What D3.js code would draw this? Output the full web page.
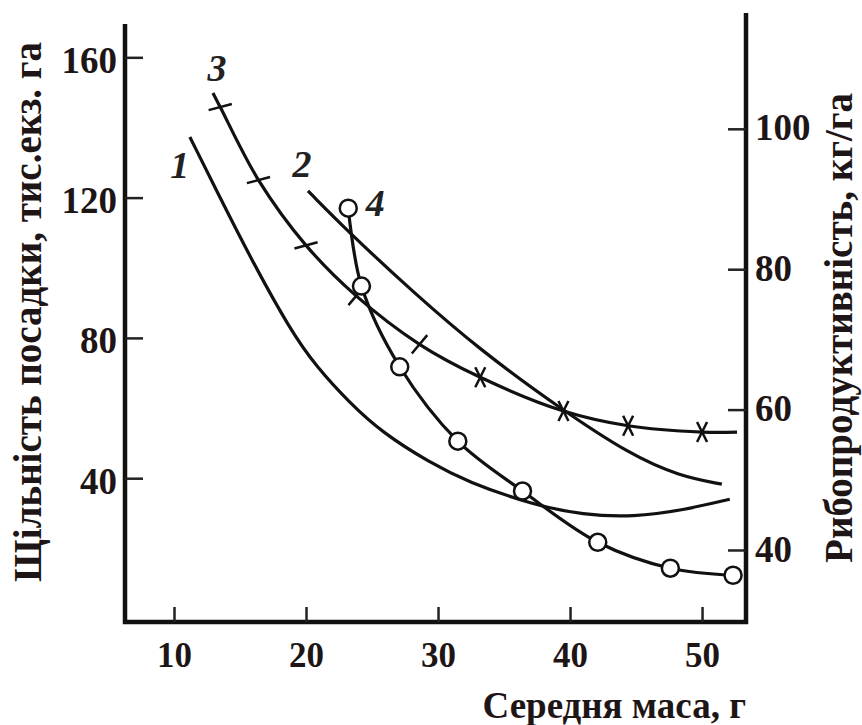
<!DOCTYPE html>
<html>
<head>
<meta charset="utf-8">
<script src="https://cdn.jsdelivr.net/npm/d3@7"></script>
<style>
  body { margin: 0; background: #fff; }
  svg text { font-family: "Liberation Serif", "Times New Roman", serif; font-weight: bold; fill: #1e1616; }
</style>
</head>
<body>
<div class="canvas"></div>
<script>
// tick labels
const massTicks = [10, 20, 30, 40, 50]
const densityTicks = [40, 80, 120, 160]
const productTicks = [40, 60, 80, 100]

// curve 1 - stocking density (left axis)
const c1Mass = [11.2, 13.5, 15.8, 18.8, 20.8, 23.3, 25.8, 29.4, 32.2, 37.2, 41.0, 44.8, 48.6, 52.1]
const c1Dens = [137.3, 119.9, 102.8, 82.3, 71.7, 61.5, 52.9, 44.4, 39.0, 32.4, 29.5, 28.9, 30.9, 34.0]

// curve 2 - stocking density (left axis)
const c2Mass = [20.15, 23.3, 28.1, 33.2, 39.2, 44.6, 48.3, 51.5]
const c2Dens = [121.9, 109.9, 93.1, 76.5, 60.0, 46.6, 40.6, 38.3]

// curve 3 - fish productivity, crosses (right axis)
const c3Mass = [12.95, 13.5, 16.4, 20.0, 23.8, 28.6, 33.2, 39.5, 44.4, 50.0, 52.65]
const c3Prod = [105.1, 103.1, 92.7, 83.4, 76.2, 69.3, 64.6, 59.8, 57.7, 56.8, 56.8]

// curve 4 - fish productivity, circles (right axis)
const c4Mass = [23.2, 24.2, 27.1, 31.5, 36.4, 42.1, 47.6, 52.35]
const c4Prod = [88.7, 77.6, 66.1, 55.5, 48.4, 41.1, 37.4, 36.4]

const curveNames = ['1', '2', '3', '4']

const dims = { width: 862, height: 725 }
const plot = { left: 125, right: 746, bottom: 622, top: 24, topR: 13 }

const svg = d3.select('.canvas')
    .append('svg')
    .attr('width', dims.width)
    .attr('height', dims.height)

const x = d3.scaleLinear().domain([6.288, 53.33]).range([plot.left, plot.right])
const yL = d3.scaleLinear().domain([-1, 169.5]).range([plot.bottom, plot.top])
const yR = d3.scaleLinear().domain([29.74, 116.5]).range([plot.bottom, plot.topR])

const zip = (a, b) => a.map((v, i) => [v, b[i]])

// axes frame
svg.append('path')
    .attr('d', `M${plot.left},${plot.top}V${plot.bottom}H${plot.right}V${plot.topR}`)
    .attr('fill', 'none')
    .attr('stroke', '#111')
    .attr('stroke-width', 4.5)

const styleAxis = (g, size) => {
    g.attr('font-family', null).attr('font-size', null)
    g.select('.domain').remove()
    g.selectAll('line').attr('stroke', '#222').attr('stroke-width', 2.5)
    g.selectAll('text').style('font-size', size + 'px')
}

svg.append('g')
    .attr('transform', `translate(${plot.left},0)`)
    .call(d3.axisLeft(yL).tickValues(densityTicks).tickSize(-18).tickPadding(8))
    .call(g => styleAxis(g, 37))
    .selectAll('text').attr('dy', '0.4em')

svg.append('g')
    .attr('transform', `translate(0,${plot.bottom})`)
    .call(d3.axisBottom(x).tickValues(massTicks).tickSize(-15).tickPadding(20))
    .call(g => styleAxis(g, 35))

svg.append('g')
    .attr('transform', `translate(${plot.right},0)`)
    .call(d3.axisRight(yR).tickValues(productTicks).tickSize(-18).tickPadding(9))
    .call(g => styleAxis(g, 37))
    .selectAll('text').attr('dy', '0.3em')

// titles
svg.append('text')
    .attr('transform', 'translate(41,312) rotate(-90)')
    .attr('text-anchor', 'middle')
    .style('font-size', '39px')
    .text('Щільність посадки, тис.екз. га')

svg.append('text')
    .attr('transform', 'translate(852,328) rotate(-90)')
    .attr('text-anchor', 'middle')
    .style('font-size', '39px')
    .text('Рибопродуктивність, кг/га')

svg.append('text')
    .attr('x', plot.right)
    .attr('y', 718)
    .attr('text-anchor', 'end')
    .style('font-size', '37px')
    .text('Середня маса, г')

// curves: plain ones smoothed, marked ones through their points
const smooth = d3.line().curve(d3.curveBasis)
const through = d3.line().curve(d3.curveCatmullRom.alpha(0.5))
const graph = svg.append('g')

const series = [
    { pts: zip(c1Mass, c1Dens).map(d => [x(d[0]), yL(d[1])]), gen: smooth },
    { pts: zip(c2Mass, c2Dens).map(d => [x(d[0]), yL(d[1])]), gen: smooth },
    { pts: zip(c3Mass, c3Prod).map(d => [x(d[0]), yR(d[1])]), gen: through },
    { pts: zip(c4Mass, c4Prod).map(d => [x(d[0]), yR(d[1])]), gen: through }
]

graph.selectAll('path.curve')
    .data(series)
    .enter()
    .append('path')
    .attr('class', 'curve')
    .attr('d', d => d.gen(d.pts))
    .attr('fill', 'none')
    .attr('stroke', '#111')
    .attr('stroke-width', 3.2)

// crosses on curve 3 (not on the two ends)
const crossPts = series[2].pts.slice(1, -1)
crossPts.forEach((p, i) => {
    const g = graph.append('g').attr('transform', `translate(${p[0]},${p[1]})`)
    if (i < 5) {
        g.append('line')
            .attr('x1', -12).attr('x2', 12).attr('y1', 0).attr('y2', 0)
            .attr('transform', `rotate(${i < 3 ? -15 : -50})`)
            .attr('stroke', '#111').attr('stroke-width', 2.5)
    } else {
        g.selectAll('line')
            .data([[-5, -10, 5, 10], [5, -10, -5, 10]])
            .enter().append('line')
            .attr('x1', d => d[0]).attr('y1', d => d[1])
            .attr('x2', d => d[2]).attr('y2', d => d[3])
            .attr('stroke', '#111').attr('stroke-width', 2.5)
    }
})

// circles on curve 4
graph.selectAll('circle')
    .data(series[3].pts)
    .enter()
    .append('circle')
    .attr('cx', d => d[0])
    .attr('cy', d => d[1])
    .attr('r', 8.5)
    .attr('fill', '#fff')
    .attr('stroke', '#111')
    .attr('stroke-width', 2.5)

// curve numbers, placed next to the first point of each curve
const labelOffset = [[-10, 28], [-6, -27], [4, -25], [27, -5]]
svg.selectAll('text.num')
    .data(curveNames)
    .enter()
    .append('text')
    .attr('class', 'num')
    .attr('x', (d, i) => series[i].pts[0][0] + labelOffset[i][0])
    .attr('y', (d, i) => series[i].pts[0][1] + labelOffset[i][1])
    .attr('text-anchor', 'middle')
    .attr('dy', '0.35em')
    .style('font-size', '38px')
    .style('font-style', 'italic')
    .style('fill', '#222')
    .text(d => d)
</script>
</body>
</html>
